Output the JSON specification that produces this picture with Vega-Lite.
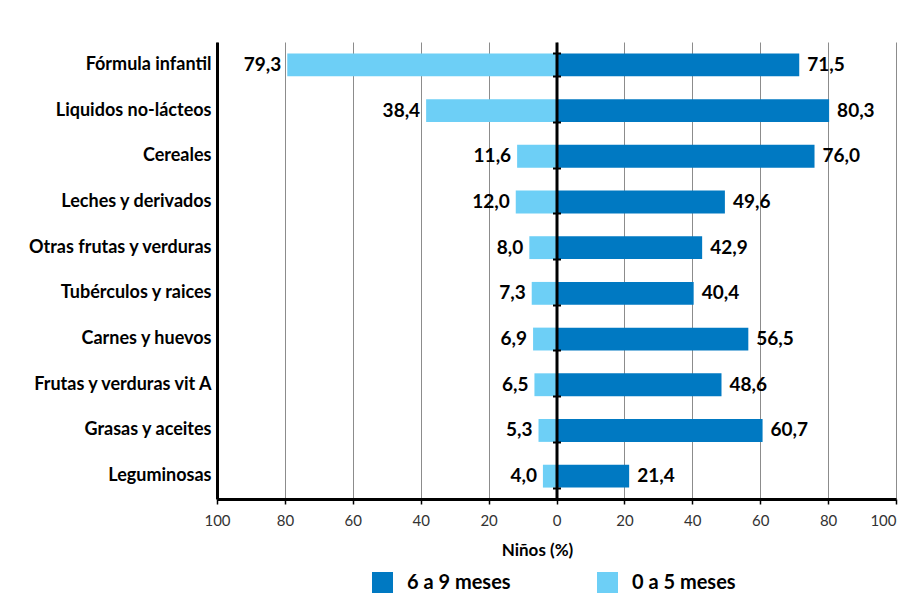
{
  "$schema": "https://vega.github.io/schema/vega-lite/v6.json",
  "width": 679,
  "height": 457,
  "autosize": {"type": "none"},
  "padding": {"left": 217, "top": 42, "right": 7, "bottom": 107},
  "background": "white",
  "config": {"view": {"stroke": null}, "font": "Lato"},
  "data": {
    "values": [
      {"categoria": "Fórmula infantil", "grupo": "0 a 5 meses", "valor": -79.3, "etiqueta": "79,3"},
      {"categoria": "Fórmula infantil", "grupo": "6 a 9 meses", "valor": 71.5, "etiqueta": "71,5"},
      {"categoria": "Liquidos no-lácteos", "grupo": "0 a 5 meses", "valor": -38.4, "etiqueta": "38,4"},
      {"categoria": "Liquidos no-lácteos", "grupo": "6 a 9 meses", "valor": 80.3, "etiqueta": "80,3"},
      {"categoria": "Cereales", "grupo": "0 a 5 meses", "valor": -11.6, "etiqueta": "11,6"},
      {"categoria": "Cereales", "grupo": "6 a 9 meses", "valor": 76.0, "etiqueta": "76,0"},
      {"categoria": "Leches y derivados", "grupo": "0 a 5 meses", "valor": -12.0, "etiqueta": "12,0"},
      {"categoria": "Leches y derivados", "grupo": "6 a 9 meses", "valor": 49.6, "etiqueta": "49,6"},
      {"categoria": "Otras frutas y verduras", "grupo": "0 a 5 meses", "valor": -8.0, "etiqueta": "8,0"},
      {"categoria": "Otras frutas y verduras", "grupo": "6 a 9 meses", "valor": 42.9, "etiqueta": "42,9"},
      {"categoria": "Tubérculos y raices", "grupo": "0 a 5 meses", "valor": -7.3, "etiqueta": "7,3"},
      {"categoria": "Tubérculos y raices", "grupo": "6 a 9 meses", "valor": 40.4, "etiqueta": "40,4"},
      {"categoria": "Carnes y huevos", "grupo": "0 a 5 meses", "valor": -6.9, "etiqueta": "6,9"},
      {"categoria": "Carnes y huevos", "grupo": "6 a 9 meses", "valor": 56.5, "etiqueta": "56,5"},
      {"categoria": "Frutas y verduras vit A", "grupo": "0 a 5 meses", "valor": -6.5, "etiqueta": "6,5"},
      {"categoria": "Frutas y verduras vit A", "grupo": "6 a 9 meses", "valor": 48.6, "etiqueta": "48,6"},
      {"categoria": "Grasas y aceites", "grupo": "0 a 5 meses", "valor": -5.3, "etiqueta": "5,3"},
      {"categoria": "Grasas y aceites", "grupo": "6 a 9 meses", "valor": 60.7, "etiqueta": "60,7"},
      {"categoria": "Leguminosas", "grupo": "0 a 5 meses", "valor": -4.0, "etiqueta": "4,0"},
      {"categoria": "Leguminosas", "grupo": "6 a 9 meses", "valor": 21.4, "etiqueta": "21,4"}
    ]
  },
  "encoding": {
    "x": {
      "field": "valor",
      "type": "quantitative",
      "scale": {"domain": [-100, 100]},
      "axis": {
        "orient": "bottom",
        "values": [-100, -80, -60, -40, -20, 0, 20, 40, 60, 80, 100],
        "labelExpr": "abs(datum.value)",
        "labelFlush": false,
        "labelAlign": {"expr": "datum.value == 100 ? 'right' : 'center'"},
        "grid": true,
        "gridColor": "#8c8c8c",
        "gridWidth": 1,
        "domainColor": "black",
        "domainWidth": 3,
        "tickColor": "black",
        "tickSize": 5,
        "tickWidth": 1.5,
        "labelFontSize": 15,
        "labelColor": "#333333",
        "labelPadding": 9,
        "title": "Niños (%)",
        "titleFontSize": 17,
        "titleFontWeight": "bold",
        "titleColor": "black",
        "titlePadding": 14,
        "titleX": 320
      }
    }
  },
  "layer": [
    {
      "mark": {"type": "bar"},
      "encoding": {
        "y": {
          "field": "categoria",
          "type": "nominal",
          "sort": null,
          "scale": {"paddingInner": 0.5, "paddingOuter": 0.25},
          "axis": {
            "orient": "left",
            "domainColor": "black",
            "domainWidth": 3,
            "ticks": false,
            "labelFontSize": 18,
            "labelFontWeight": "bold",
            "labelColor": "black",
            "labelPadding": 6,
            "labelLimit": 300,
            "title": null
          }
        },
        "color": {
          "field": "grupo",
          "type": "nominal",
          "scale": {"domain": ["6 a 9 meses", "0 a 5 meses"], "range": ["#0079C2", "#6DCFF6"]},
          "legend": {
            "orient": "none",
            "legendX": 155,
            "legendY": 530,
            "direction": "horizontal",
            "title": null,
            "symbolType": "square",
            "symbolSize": 441,
            "symbolStrokeWidth": 0,
            "symbolOpacity": 1,
            "labelFontSize": 20,
            "labelFontWeight": "bold",
            "labelColor": "black",
            "labelOffset": 14,
            "labelLimit": 300,
            "columnPadding": 86
          }
        }
      }
    },
    {
      "transform": [{"filter": "datum.grupo == '0 a 5 meses'"}],
      "mark": {"type": "text", "align": "right", "dx": -6, "fontWeight": "bold", "fontSize": 19, "color": "black"},
      "encoding": {
        "y": {
          "field": "categoria",
          "type": "nominal",
          "sort": null,
          "axis": {
            "orient": "left",
            "offset": -339.5,
            "labels": false,
            "title": null,
            "grid": false,
            "domainColor": "black",
            "domainWidth": 3,
            "ticks": true,
            "tickBand": "extent",
            "tickColor": "black",
            "tickSize": 4,
            "tickWidth": 2,
            "zindex": 1
          }
        },
        "text": {"field": "etiqueta"}
      }
    },
    {
      "transform": [{"filter": "datum.grupo == '6 a 9 meses'"}],
      "mark": {"type": "text", "align": "left", "dx": 8, "fontWeight": "bold", "fontSize": 19, "color": "black"},
      "encoding": {
        "y": {
          "field": "categoria",
          "type": "nominal",
          "sort": null,
          "axis": {
            "orient": "right",
            "offset": -339.5,
            "labels": false,
            "title": null,
            "grid": false,
            "domain": false,
            "ticks": true,
            "tickBand": "extent",
            "tickColor": "black",
            "tickSize": 4,
            "tickWidth": 2,
            "zindex": 1
          }
        },
        "text": {"field": "etiqueta"}
      }
    }
  ],
  "resolve": {"axis": {"y": "independent"}}
}
